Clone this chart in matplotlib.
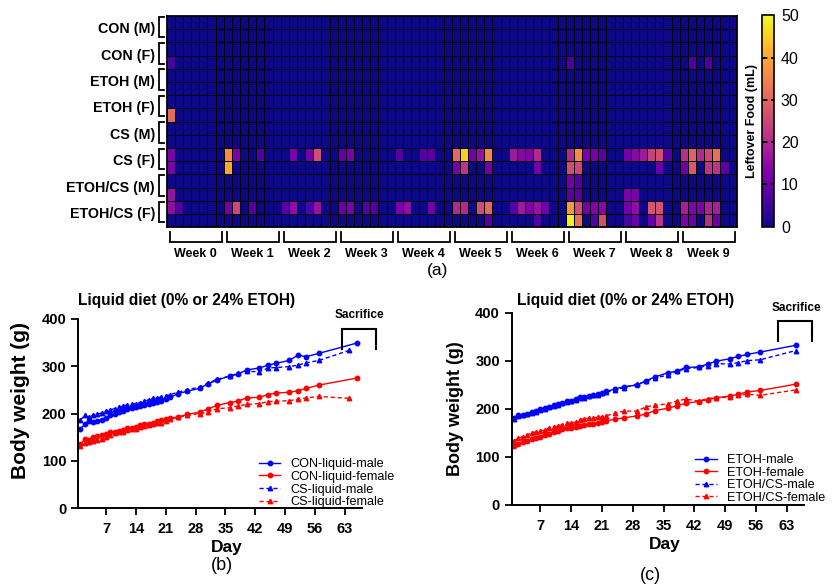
import numpy as np
import matplotlib
matplotlib.use('Agg')
import matplotlib.pyplot as plt

plt.rcParams['font.family'] = ['Liberation Sans', 'DejaVu Sans']

# ---------------- data ----------------
groups = ['CON (M)', 'CON (F)', 'ETOH (M)', 'ETOH (F)', 'CS (M)', 'CS (F)',
          'ETOH/CS (M)', 'ETOH/CS (F)']
weeks = ['Week 0', 'Week 1', 'Week 2', 'Week 3', 'Week 4',
         'Week 5', 'Week 6', 'Week 7', 'Week 8', 'Week 9']
n_rows = 16
n_cols = 70
# (row, day column, leftover food mL); all other cells read as 0
leftover_cells = [
    (3, 0, 6), (3, 49, 6), (3, 64, 6), (3, 66, 6),
    (7, 0, 31),
    (10, 0, 12), (10, 7, 36), (10, 8, 12), (10, 11, 7), (10, 15, 12), (10, 17, 11),
    (10, 18, 26), (10, 21, 9), (10, 22, 12), (10, 28, 8), (10, 31, 8), (10, 32, 8),
    (10, 35, 31), (10, 36, 45), (10, 37, 11), (10, 38, 16), (10, 39, 36), (10, 42, 17),
    (10, 43, 14), (10, 44, 13), (10, 45, 20), (10, 49, 20), (10, 50, 36), (10, 51, 12),
    (10, 52, 11), (10, 53, 8), (10, 56, 11), (10, 57, 14), (10, 58, 17), (10, 59, 24),
    (10, 60, 26), (10, 61, 7), (10, 63, 21), (10, 64, 30), (10, 65, 20), (10, 66, 25),
    (10, 67, 32),
    (11, 0, 12), (11, 7, 40), (11, 35, 11), (11, 36, 22), (11, 39, 11), (11, 45, 11),
    (11, 49, 26), (11, 50, 25), (11, 60, 10), (11, 63, 11), (11, 64, 28), (11, 66, 22),
    (11, 67, 22), (11, 68, 8),
    (12, 49, 11), (12, 50, 7),
    (13, 0, 16), (13, 49, 8), (13, 50, 8), (13, 56, 12), (13, 57, 12),
    (14, 0, 15), (14, 1, 7), (14, 7, 11), (14, 8, 25), (14, 10, 7), (14, 14, 8),
    (14, 15, 15), (14, 17, 7), (14, 18, 16), (14, 21, 10), (14, 22, 12), (14, 24, 7),
    (14, 25, 7), (14, 28, 12), (14, 29, 15), (14, 32, 11), (14, 35, 20), (14, 36, 20),
    (14, 38, 26), (14, 39, 31), (14, 42, 8), (14, 43, 17), (14, 44, 13), (14, 45, 16),
    (14, 46, 11), (14, 49, 38), (14, 50, 26), (14, 51, 11), (14, 52, 13), (14, 53, 14),
    (14, 56, 11), (14, 57, 15), (14, 59, 27), (14, 60, 27), (14, 63, 18), (14, 64, 13),
    (14, 65, 12), (14, 66, 19), (14, 67, 18),
    (15, 39, 7), (15, 45, 7), (15, 49, 49), (15, 50, 32), (15, 52, 7), (15, 53, 26),
    (15, 56, 6), (15, 57, 10), (15, 59, 10), (15, 60, 22), (15, 63, 12), (15, 64, 10),
    (15, 66, 21), (15, 67, 10),
]

days_con = [1, 2, 3, 4, 5, 6, 7, 8, 9, 10, 11, 12, 13, 14, 15, 16, 17, 18, 19, 20, 21, 22,
            24, 26, 29, 31, 33, 36, 38, 40, 43, 45, 47, 50, 52, 54, 57, 66]
days_cs = [1, 2, 3, 4, 5, 6, 7, 8, 9, 10, 11, 12, 13, 14, 15, 16, 17, 18, 19, 20, 21, 22,
           24, 26, 29, 31, 33, 36, 38, 40, 43, 45, 47, 50, 52, 54, 57, 64]
days_etoh = [1, 2, 3, 4, 5, 6, 7, 8, 9, 10, 11, 12, 13, 14, 15, 16, 17, 18, 19, 20, 21, 22,
             24, 26, 29, 31, 33, 36, 38, 40, 43, 45, 47, 50, 52, 54, 57, 65]

con_male = [168, 177, 185, 182, 184, 187, 191, 196, 199, 203, 206, 209, 212, 213, 216, 218,
            220, 222, 225, 227, 230, 234, 242, 247, 253, 263, 270, 279, 283, 292, 296, 302,
            306, 312, 323, 320, 327, 349]
con_female = [135, 146, 145, 150, 153, 155, 157, 162, 161, 164, 166, 170, 170, 172, 176, 178,
              178, 181, 184, 186, 188, 190, 193, 198, 203, 210, 217, 223, 226, 233, 234, 240,
              243, 245, 248, 253, 260, 275]
cs_male = [186, 196, 192, 197, 199, 201, 205, 208, 210, 213, 216, 218, 220, 221, 223, 226,
           229, 232, 233, 235, 237, 240, 245, 250, 256, 264, 272, 279, 285, 289, 288, 296,
           297, 299, 302, 307, 312, 333]
cs_female = [132, 137, 140, 142, 145, 147, 150, 155, 158, 160, 162, 166, 167, 168, 171, 174,
             176, 178, 180, 181, 185, 188, 192, 196, 200, 203, 210, 212, 216, 219, 221, 225,
             226, 227, 230, 233, 236, 232]

etoh_male = [180, 186, 187, 190, 193, 195, 199, 201, 204, 207, 209, 212, 216, 217, 221, 225,
             225, 227, 229, 230, 233, 236, 241, 246, 249, 258, 266, 275, 278, 286, 287, 293,
             299, 304, 309, 313, 318, 332]
etoh_female = [122, 127, 130, 133, 136, 138, 141, 145, 148, 151, 154, 157, 159, 160, 162, 164,
               166, 168, 169, 170, 172, 175, 178, 181, 185, 189, 196, 201, 206, 211, 215, 219,
               223, 226, 230, 235, 238, 251]
etohcs_male = [178, 184, 186, 189, 192, 194, 198, 200, 203, 206, 208, 211, 215, 216, 219, 222,
               223, 226, 228, 229, 232, 234, 240, 244, 251, 257, 264, 270, 278, 283, 286, 290,
               294, 293, 296, 300, 302, 321]
etohcs_female = [133, 138, 142, 146, 149, 152, 153, 156, 160, 162, 164, 167, 170, 170, 172, 177,
                 179, 180, 181, 182, 183, 185, 191, 195, 195, 204, 207, 210, 216, 220, 216, 221,
                 223, 224, 228, 230, 228, 239]

day_ticks = [7, 14, 21, 28, 35, 42, 49, 56, 63]

# ---------------- figure ----------------
W, H = 834, 587
fig = plt.figure(figsize=(W / 100, H / 100), dpi=100)


def frac(x0, y0, x1, y1):
    # pixel box (top-left origin) -> figure fraction rect
    return [x0 / W, 1 - y1 / H, (x1 - x0) / W, (y1 - y0) / H]


# ---- (a) heatmap ----
grid = np.zeros((n_rows, n_cols))
for r, c, v in leftover_cells:
    grid[r, c] = v

ax = fig.add_axes(frac(166.7, 16, 736.7, 227.3))
mesh = ax.pcolormesh(np.arange(n_cols + 1), np.arange(n_rows + 1), grid, cmap='plasma',
                     vmin=0, vmax=50, edgecolors='black', linewidth=0.6)
ax.set_xlim(0, n_cols)
ax.set_ylim(n_rows, 0)
ax.set_xticks([])
ax.set_yticks([])
for s in ax.spines.values():
    s.set_linewidth(1.3)

for g, name in enumerate(groups):
    y0 = 2 * g + 0.05
    y1 = 2 * g + 1.6
    ax.plot([-0.33, -0.91, -0.91, -0.33], [y0, y0, y1, y1], color='black', lw=1.3,
            clip_on=False, solid_joinstyle='miter')
    ax.text(-1.45, 2 * g + 1.0, name, ha='right', va='center', fontsize=10.3,
            fontweight='bold')

for w, name in enumerate(weeks):
    x0 = 7 * w + 0.35
    x1 = 7 * w + 6.85
    ax.plot([x0, x0, x1, x1], [16.38, 17.1, 17.1, 16.38], color='black', lw=1.3,
            clip_on=False, solid_joinstyle='miter')
    ax.text(7 * w + 3.5, 18.0, name, ha='center', va='center', fontsize=9,
            fontweight='bold')

cax = fig.add_axes(frac(762.3, 15.3, 774, 226.7))
cbar = fig.colorbar(mesh, cax=cax, ticks=[0, 10, 20, 30, 40, 50])
cbar.ax.tick_params(length=0, labelsize=11.5, pad=5)
cbar.outline.set_linewidth(1.2)
cbar.ax.hlines([10, 20, 30, 40], 0, 1, colors='black', linestyles=(0, (3, 2)), lw=1.3)
cbar.ax.yaxis.set_label_position('left')
cbar.set_label('Leftover Food (mL)', fontsize=9, fontweight='bold', labelpad=3)

fig.text(438 / W, 1 - 270 / H, '(a)', ha='center', va='center', fontsize=12.5)


# ---- line panels ----
def weight_panel(rect, series, xlim_right, bracket, sac_xy, title_xy, leg_anchor,
                 ylab_size, ylab_xy):
    a = fig.add_axes(rect)
    for days, vals, color, ls, mk, lab in series:
        a.plot(days, vals, color=color, linestyle=ls, marker=mk, markersize=3.2,
               lw=1.0, label=lab, dashes=(3, 2) if ls == '--' else (None, None))
    a.set_xlim(0.5, xlim_right)
    a.set_ylim(0, 400)
    a.set_xticks(day_ticks)
    a.set_yticks([0, 100, 200, 300, 400])
    a.spines['top'].set_visible(False)
    a.spines['right'].set_visible(False)
    a.spines['bottom'].set_visible(False)
    a.spines['left'].set_linewidth(1.4)
    a.axhline(0, xmin=0, xmax=(67 - 0.5) / (xlim_right - 0.5), color='black', lw=1.4,
              clip_on=False)
    a.tick_params(width=1.3, length=5, labelsize=10.5)
    a.tick_params(axis='x', pad=5)
    for t in a.get_xticklabels() + a.get_yticklabels():
        t.set_fontweight('bold')
    a.set_xlabel('Day', fontsize=12.5, fontweight='bold', labelpad=3)
    a.set_ylabel('Body weight (g)', fontsize=ylab_size, fontweight='bold', va='center')
    a.yaxis.set_label_coords(*ylab_xy)
    bx0, bx1, by0, by1 = bracket
    a.plot([bx0, bx0, bx1, bx1], [by0, by1, by1, by0], color='black', lw=1.5,
           clip_on=False, solid_joinstyle='miter')
    a.text(sac_xy[0], sac_xy[1], 'Sacrifice', ha='center', va='center', fontsize=8.5,
           fontweight='bold', clip_on=False)
    a.text(title_xy[0], title_xy[1], 'Liquid diet (0% or 24% ETOH)', ha='center',
           va='center', fontsize=11.2, fontweight='bold', clip_on=False)
    a.legend(loc='upper left', bbox_to_anchor=leg_anchor, frameon=False, fontsize=9.1,
             handlelength=1.7, handletextpad=0.8, labelspacing=0.05, borderaxespad=0,
             borderpad=0)
    return a


blue = '#0000ff'
red = '#ff0000'

series_b = [
    (days_con, con_male, blue, '-', 'o', 'CON-liquid-male'),
    (days_con, con_female, red, '-', 'o', 'CON-liquid-female'),
    (days_cs, cs_male, blue, '--', '^', 'CS-liquid-male'),
    (days_cs, cs_female, red, '--', '^', 'CS-liquid-female'),
]
weight_panel(frac(78.3, 318.7, 374.5, 508.3), series_b, 70,
             (62.4, 70.4, 337, 378), (66.4, 408), (26, 438), (0.61, 0.264),
             15, (-0.1945, 0.566))

series_c = [
    (days_etoh, etoh_male, blue, '-', 'o', 'ETOH-male'),
    (days_etoh, etoh_female, red, '-', 'o', 'ETOH-female'),
    (days_etoh, etohcs_male, blue, '--', '^', 'ETOH/CS-male'),
    (days_etoh, etohcs_female, red, '--', '^', 'ETOH/CS-female'),
]
weight_panel(frac(511.7, 312.7, 817.5, 504.7), series_c, 70,
             (61.1, 68.8, 342, 383), (65.1, 410), (26.4, 425), (0.6, 0.264),
             13, (-0.185, 0.498))

fig.text(221.7 / W, 1 - 565 / H, '(b)', ha='center', va='center', fontsize=13)
fig.text(650 / W, 1 - 575 / H, '(c)', ha='center', va='center', fontsize=13)

fig.savefig('out.png', dpi=100)
